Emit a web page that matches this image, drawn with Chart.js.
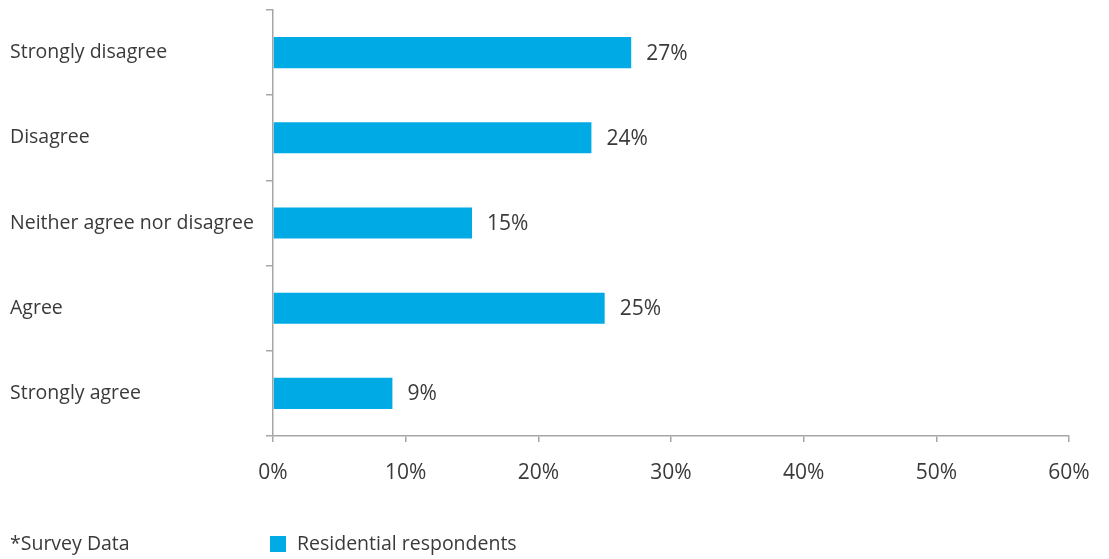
<!DOCTYPE html>
<html>
<head>
<meta charset="utf-8">
<script src="https://cdn.jsdelivr.net/npm/chart.js@4"></script>
<style>
  html, body { margin: 0; padding: 0; background: #fff; }
  #wrap { width: 1109px; height: 559px; position: relative; }
</style>
</head>
<body>
<div id="wrap"><canvas id="surveyChart"></canvas></div>
<script>
// Données du graphique
const categories = ['Strongly disagree', 'Disagree', 'Neither agree nor disagree', 'Agree', 'Strongly agree'];
const residentialValues = [27, 24, 15, 25, 9];
const seriesLabel = 'Residential respondents';
const footNote = '*Survey Data';
const xTicks = [0, 10, 20, 30, 40, 50, 60];

const barColor = '#00abe5';
const textColor = '#3a3a3a';
const axisColor = '#a6a6a6';
const fontFamily = '"Open Sans", "Noto Sans", sans-serif';

// Étiquettes de valeur au bout des barres
const valueLabels = {
    id: 'valueLabels',
    afterDatasetsDraw(chart) {
        const ctx = chart.ctx;
        const meta = chart.getDatasetMeta(0);
        ctx.save();
        ctx.font = '21px ' + fontFamily;
        ctx.fillStyle = textColor;
        ctx.textAlign = 'left';
        ctx.textBaseline = 'middle';
        meta.data.forEach((bar, i) => {
            ctx.fillText(chart.data.datasets[0].data[i] + '%', bar.x + 15, bar.y + 1);
        });
        ctx.restore();
    }
};

// Note et légende en bas
const footer = {
    id: 'footer',
    afterDraw(chart) {
        const ctx = chart.ctx;
        const ds = chart.data.datasets[0];
        ctx.save();
        ctx.font = '19.5px ' + fontFamily;
        ctx.fillStyle = textColor;
        ctx.textBaseline = 'middle';
        ctx.textAlign = 'left';
        ctx.fillText(footNote, 10, 544);
        ctx.fillStyle = ds.backgroundColor;
        ctx.fillRect(270, 536, 16, 16);
        ctx.fillStyle = textColor;
        ctx.fillText(ds.label, 297, 544);
        ctx.restore();
    }
};

function initChart() {
    const ctx = document.getElementById('surveyChart').getContext('2d');
    new Chart(ctx, {
        type: 'bar',
        data: {
            labels: categories,
            datasets: [{
                label: seriesLabel,
                data: residentialValues,
                backgroundColor: barColor,
                barPercentage: 0.365,
                categoryPercentage: 1.0
            }]
        },
        options: {
            indexAxis: 'y',
            responsive: true,
            maintainAspectRatio: false,
            animation: false,
            layout: {
                padding: { top: 10, left: 10, right: 40, bottom: 73 }
            },
            plugins: {
                legend: { display: false },
                tooltip: { enabled: false }
            },
            scales: {
                x: {
                    min: 0,
                    max: 60,
                    afterFit(scale) { scale.height = 50; },
                    afterBuildTicks(scale) {
                        scale.ticks = xTicks.map(v => ({ value: v }));
                    },
                    border: { color: axisColor, width: 1.5 },
                    grid: {
                        drawOnChartArea: false,
                        drawTicks: true,
                        tickLength: 6,
                        color: axisColor,
                        lineWidth: 1.5
                    },
                    ticks: {
                        padding: 18,
                        color: textColor,
                        font: { family: fontFamily, size: 21 },
                        callback: v => v + '%'
                    }
                },
                y: {
                    afterFit(scale) {
                        scale.width = 263;
                        scale.paddingTop = 0;
                        scale.paddingBottom = 0;
                    },
                    border: { color: axisColor, width: 1.5 },
                    grid: {
                        drawOnChartArea: false,
                        tickLength: 7,
                        color: axisColor,
                        lineWidth: 1.5
                    },
                    ticks: {
                        crossAlign: 'far',
                        color: textColor,
                        font: { family: fontFamily, size: 19.5 }
                    }
                }
            }
        },
        plugins: [valueLabels, footer]
    });
}

document.addEventListener('DOMContentLoaded', initChart);
</script>
</body>
</html>
